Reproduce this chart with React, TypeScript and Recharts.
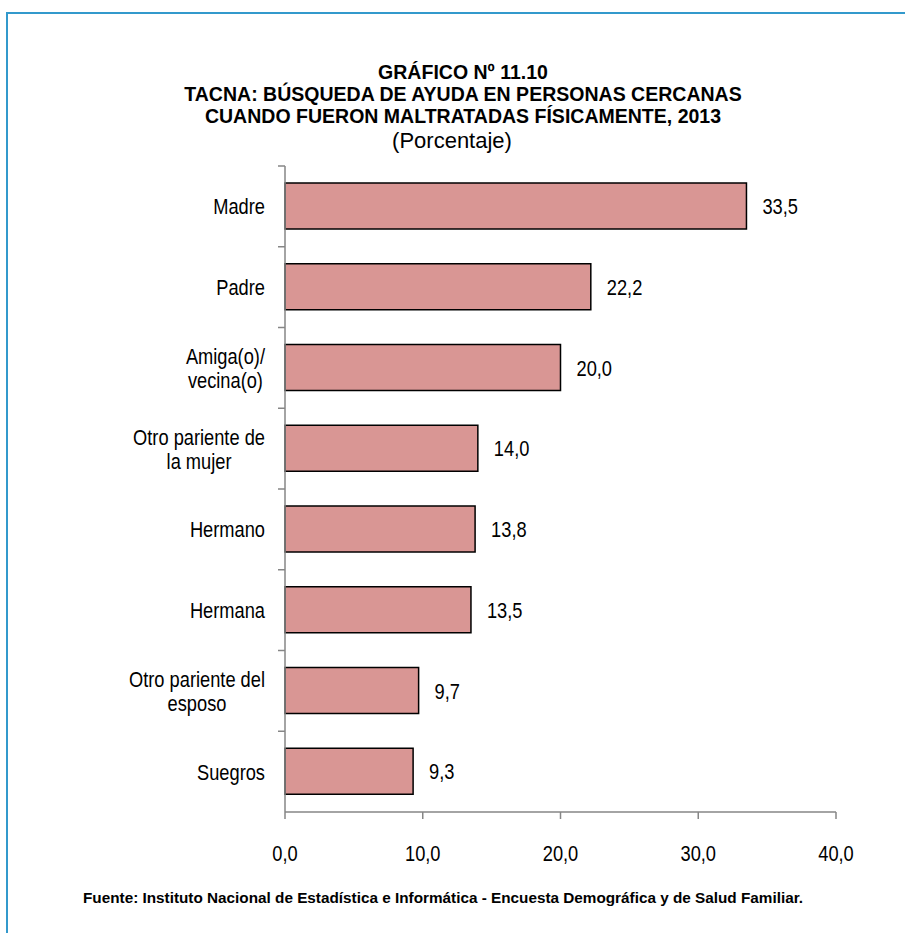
import { BarChart, Bar, XAxis, YAxis, LabelList } from "recharts";

const categories = [
  "Madre",
  "Padre",
  "Amiga(o)/\nvecina(o)",
  "Otro pariente de\nla mujer",
  "Hermano",
  "Hermana",
  "Otro pariente del\nesposo",
  "Suegros",
];
const values = [33.5, 22.2, 20.0, 14.0, 13.8, 13.5, 9.7, 9.3];
const xTicks = [0, 10, 20, 30, 40];

const titleLines = [
  "GRÁFICO Nº 11.10",
  "TACNA: BÚSQUEDA DE AYUDA EN PERSONAS CERCANAS",
  "CUANDO FUERON MALTRATADAS FÍSICAMENTE, 2013",
];
const subtitle = "(Porcentaje)";
const source =
  "Fuente: Instituto Nacional de Estadística e Informática - Encuesta Demográfica y de Salud Familiar.";

const data = categories.map((name, i) => ({ name, value: values[i] }));

const W = 905;
const H = 933;
const FONT = "'Liberation Sans', Arial, sans-serif";
const LABEL_SIZE = 22;
const SQUEEZE = 0.83; // the original uses a narrow face
const AXIS_GRAY = "#868686";

// plot box
const PLOT_TOP = 166;
const PLOT_BOTTOM = 812;
const PLOT_LEFT = 285;
const PLOT_RIGHT = 836;
const BAND = (PLOT_BOTTOM - PLOT_TOP) / categories.length;

const fmt = (v: number) => v.toFixed(1).replace(".", ",");

let ctx: CanvasRenderingContext2D | null = null;
const measure = (text: string) => {
  if (!ctx) ctx = document.createElement("canvas").getContext("2d");
  if (!ctx) return text.length * 10;
  ctx.font = `${LABEL_SIZE}px ${FONT}`;
  return ctx.measureText(text).width * SQUEEZE;
};

// narrow text: scale horizontally around the anchor point
function NarrowText({ x, y, k = SQUEEZE, anchor = "start", size = LABEL_SIZE, bold = false, children }: any) {
  return (
    <text
      transform={`translate(${x},${y}) scale(${k},1)`}
      textAnchor={anchor}
      fontFamily={FONT}
      fontSize={size}
      fontWeight={bold ? "bold" : "normal"}
      fill="#000"
    >
      {children}
    </text>
  );
}

function CategoryTick(props: any) {
  const { x, y, payload } = props;
  const lines = String(payload.value).split("\n");
  const blockW = Math.max(...lines.map(measure));
  const cx = x - 20 - blockW / 2;
  const lineH = 24;
  const startY = y - ((lines.length - 1) * lineH) / 2 + 8;
  return (
    <g>
      <line x1={x - 7} x2={x} y1={y - BAND / 2} y2={y - BAND / 2} stroke={AXIS_GRAY} strokeWidth={1.5} />
      {lines.map((l, i) => (
        <NarrowText key={i} x={cx} y={startY + i * lineH} anchor="middle">
          {l}
        </NarrowText>
      ))}
    </g>
  );
}

function ValueTick(props: any) {
  const { x, y, payload } = props;
  return (
    <NarrowText x={x} y={y + 16} anchor="middle">
      {fmt(Number(payload.value))}
    </NarrowText>
  );
}

function ValueLabel(props: any) {
  const { x, y, width, height, value } = props;
  return (
    <NarrowText x={Number(x) + Number(width) + 16} y={Number(y) + Number(height) / 2 + 8}>
      {fmt(Number(value))}
    </NarrowText>
  );
}

export default function App() {
  return (
    <div style={{ position: "absolute", top: 0, left: 0, width: W, height: H, background: "#fff", overflow: "hidden" }}>
      {/* frame, only top and left edges are inside the picture */}
      <div style={{ position: "absolute", left: 6, top: 12, width: W, height: H, borderTop: "2px solid #3399cc", borderLeft: "2px solid #3399cc" }} />

      <BarChart
        width={W}
        height={H}
        data={data}
        layout="vertical"
        margin={{ top: PLOT_TOP, right: W - PLOT_RIGHT, bottom: H - PLOT_BOTTOM - 60, left: 5 }}
        style={{ position: "absolute", top: 0, left: 0 }}
      >
        <XAxis
          type="number"
          domain={[0, 40]}
          ticks={xTicks}
          height={60}
          tickSize={7}
          tickMargin={26}
          axisLine={{ stroke: AXIS_GRAY, strokeWidth: 1.5 }}
          tickLine={{ stroke: AXIS_GRAY, strokeWidth: 1.5 }}
          tick={<ValueTick />}
        />
        <YAxis
          type="category"
          dataKey="name"
          width={PLOT_LEFT - 5}
          tickLine={false}
          tickSize={0}
          tickMargin={0}
          axisLine={{ stroke: AXIS_GRAY, strokeWidth: 1.5 }}
          tick={<CategoryTick />}
          interval={0}
        />
        <Bar dataKey="value" barSize={46} fill="#d99694" stroke="#000" strokeWidth={1.5} isAnimationActive={false}>
          <LabelList dataKey="value" content={<ValueLabel />} />
        </Bar>
      </BarChart>

      <svg width={W} height={H} style={{ position: "absolute", top: 0, left: 0, pointerEvents: "none" }}>
        {titleLines.map((t, i) => (
          <NarrowText key={i} x={463} y={79 + i * 22} anchor="middle" size={21} k={0.93} bold>
            {t}
          </NarrowText>
        ))}
        <NarrowText x={452} y={148} anchor="middle" size={22} k={1}>
          {subtitle}
        </NarrowText>
        <NarrowText x={443} y={903} anchor="middle" size={15.3} k={1} bold>
          {source}
        </NarrowText>
      </svg>
    </div>
  );
}
